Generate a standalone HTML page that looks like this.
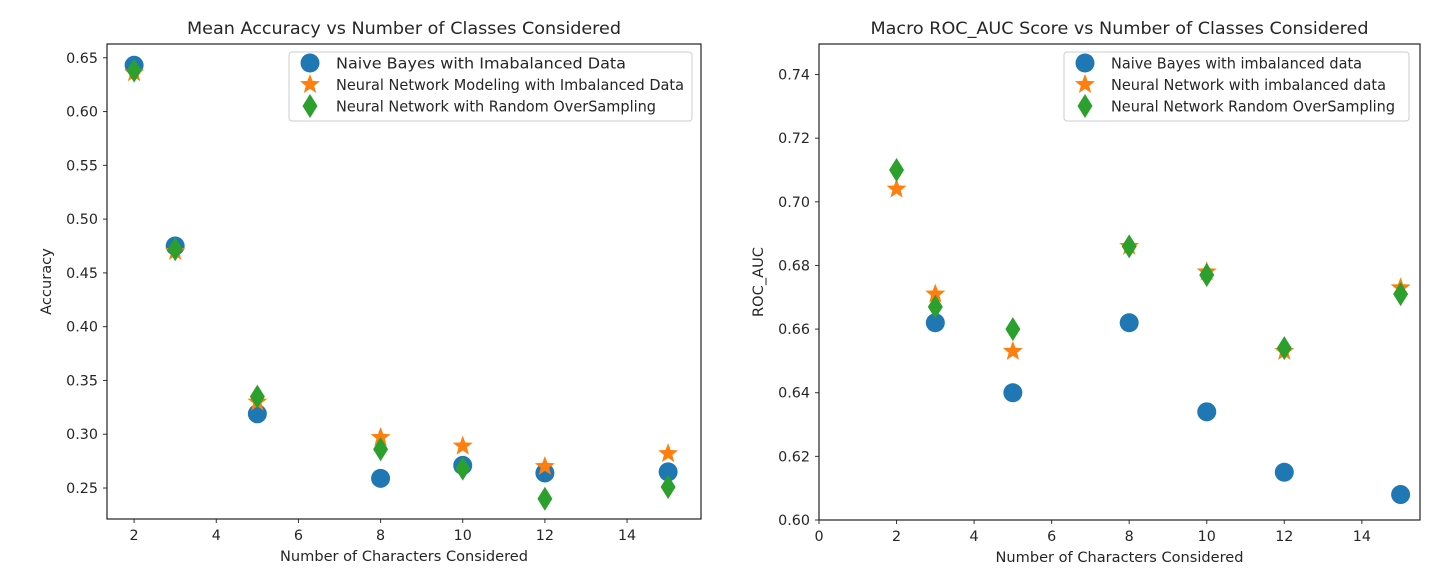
<!DOCTYPE html>
<html><head><meta charset="utf-8"><style>
body{margin:0;background:#fff;}
svg text{font-family:"DejaVu Sans","Liberation Sans",sans-serif;fill:#262626;}
</style></head><body>
<svg id="c" width="1453" height="579" xmlns="http://www.w3.org/2000/svg"></svg>
<script>
const xCats=[2,3,5,8,10,12,15];
const accNB=[0.643,0.475,0.319,0.259,0.271,0.264,0.265];
const accNN=[0.636,0.470,0.330,0.297,0.289,0.270,0.282];
const accROS=[0.638,0.472,0.335,0.286,0.268,0.240,0.251];
const aucXNB=[3,5,8,10,12,15];
const aucNB=[0.662,0.640,0.662,0.634,0.615,0.608];
const aucNN=[0.704,0.671,0.653,0.686,0.678,0.653,0.673];
const aucROS=[0.710,0.667,0.660,0.686,0.677,0.654,0.671];
const leftXTicks=[2,4,6,8,10,12,14];
const leftYTicks=["0.25","0.30","0.35","0.40","0.45","0.50","0.55","0.60","0.65"];
const rightXTicks=[0,2,4,6,8,10,12,14];
const rightYTicks=["0.60","0.62","0.64","0.66","0.68","0.70","0.72","0.74"];
const leftLegend=["Naive Bayes with Imabalanced Data","Neural Network Modeling with Imbalanced Data","Neural Network with Random OverSampling"];
const rightLegend=["Naive Bayes with imbalanced data","Neural Network with imbalanced data","Neural Network Random OverSampling"];

const NS="http://www.w3.org/2000/svg";
const svg=document.getElementById('c');
function mk(tag,attrs,parent){const e=document.createElementNS(NS,tag);for(const k in attrs)e.setAttribute(k,attrs[k]);(parent||svg).appendChild(e);return e;}
function star(cx,cy,R){const r=R*0.42;let p=[];for(let i=0;i<10;i++){const a=-Math.PI/2+i*Math.PI/5;const rr=i%2?r:R;p.push((cx+rr*Math.cos(a)).toFixed(1)+','+(cy+rr*Math.sin(a)).toFixed(1));}return p.join(' ');}
function diamond(cx,cy){return `${cx},${cy-12} ${cx+7.5},${cy} ${cx},${cy+12} ${cx-7.5},${cy}`;}
function drawMarker(kind,x,y,g,name){let e;
 if(kind===0)e=mk('circle',{cx:x,cy:y,r:9.5,fill:'#1f77b4'},g);
 else if(kind===1)e=mk('polygon',{points:star(x,y,10.5),fill:'#ff7f0e'},g);
 else e=mk('polygon',{points:diamond(x,y),fill:'#2ca02c'},g);
 
 
 return e;}

function panel(o){
 const g=mk('g',{});
 
 
 const X=v=>o.x0+(v-o.xmin)/(o.xmax-o.xmin)*(o.x1-o.x0);
 const Y=v=>o.y1-(v-o.ymin)/(o.ymax-o.ymin)*(o.y1-o.y0);
 const t=mk('text',{x:(o.x0+o.x1)/2,y:34,'text-anchor':'middle','font-size':17,textLength:o.tw,lengthAdjust:'spacingAndGlyphs'},g);t.textContent=o.title;
 
 o.xt.forEach(v=>{const x=X(v);mk('line',{x1:x,x2:x,y1:o.y1,y2:o.y1+4,stroke:'#333'},g);
  const tt=mk('text',{x:x,y:o.y1+21,'text-anchor':'middle','font-size':14.3},g);tt.textContent=v;
  });
 o.yt.forEach(s=>{const y=Y(parseFloat(s));mk('line',{x1:o.x0-4,x2:o.x0,y1:y,y2:y,stroke:'#333'},g);
  const tt=mk('text',{x:o.x0-9,y:y+5,'text-anchor':'end','font-size':14.3},g);tt.textContent=s;
  });
 const xl=mk('text',{x:(o.x0+o.x1)/2,y:o.y1+42,'text-anchor':'middle','font-size':14.6,textLength:248,lengthAdjust:'spacingAndGlyphs'},g);xl.textContent='Number of Characters Considered';
 
 const yx=o.x0-56,yy=(o.y0+o.y1)/2;
 const yl=mk('text',{x:yx,y:yy,'text-anchor':'middle','font-size':14.6,transform:`rotate(-90 ${yx} ${yy})`},g);yl.textContent=o.ylabel;
 
 o.series.forEach((s,k)=>{s.y.forEach((v,i)=>drawMarker(k,X(s.x[i]),Y(v),g,'point-'+s.n+'-'+s.x[i]));});
 mk('rect',{x:o.x0,y:o.y0,width:o.x1-o.x0,height:o.y1-o.y0,fill:'none',stroke:'#222','stroke-width':1.2},g);
 const lg=mk('g',{},g);
 
 mk('rect',{x:o.lx,y:52,width:o.lw,height:69,rx:3,fill:'#fff','fill-opacity':0.8,stroke:'#ccc'},lg);
 o.legend.forEach((s,k)=>{const y=63+k*21.5;drawMarker(k,o.lx+21,y,lg,'legend-marker');
  const lt=mk('text',{x:o.lx+47,y:y+5.5,'font-size':15.5,textLength:o.lwid[k],lengthAdjust:'spacingAndGlyphs'},lg);lt.textContent=s;
  });
}
panel({name:'accuracy-panel',title:'Mean Accuracy vs Number of Classes Considered',ylabel:'Accuracy',tw:434,lwid:[290,348,320],
 x0:107,x1:701,y0:44,y1:519,xmin:1.34,xmax:15.8,ymin:0.2212,ymax:0.6628,xt:leftXTicks,yt:leftYTicks,
 series:[{n:'nb',x:xCats,y:accNB},{n:'nn',x:xCats,y:accNN},{n:'ros',x:xCats,y:accROS}],legend:leftLegend,lx:289,lw:403});
panel({name:'roc-auc-panel',title:'Macro ROC_AUC Score vs Number of Classes Considered',ylabel:'ROC_AUC',tw:498,lwid:[251,275,284],
 x0:819,x1:1420,y0:44,y1:520,xmin:0,xmax:15.5,ymin:0.60,ymax:0.7496,xt:rightXTicks,yt:rightYTicks,
 series:[{n:'nb',x:aucXNB,y:aucNB},{n:'nn',x:xCats,y:aucNN},{n:'ros',x:xCats,y:aucROS}],legend:rightLegend,lx:1064,lw:345});
</script>
</body></html>
